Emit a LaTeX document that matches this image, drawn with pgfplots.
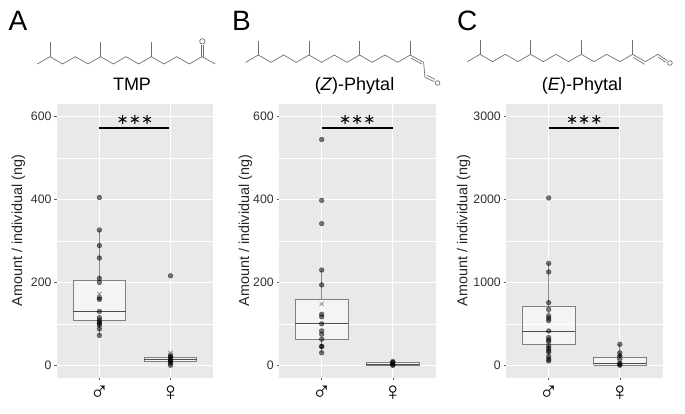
\documentclass[border=0pt]{standalone}
\usepackage{fontspec}
\setmainfont{Liberation Sans}
\newfontfamily\dv{DejaVu Sans}
\usepackage{pgfplots}
\pgfplotsset{compat=1.18}
\definecolor{panelbg}{HTML}{E9E9E9}
\definecolor{ticktxt}{HTML}{303030}
\definecolor{boxedge}{HTML}{808080}
\definecolor{mol}{HTML}{707070}
\pgfplotsset{
  panel/.style={
    anchor=south west, scale only axis, width=156.5pt, height=273.7pt,
    xmin=0.4, xmax=2.6, xtick={1,2},
    xticklabels={{\fontsize{26}{26}\selectfont ♂},{\fontsize{26}{26}\selectfont ♀}},
    axis background/.style={fill=panelbg},
    axis line style={draw=none},
    xmajorgrids, ymajorgrids, yminorgrids, minor y tick num=1,
    major grid style={white,line width=0.9pt},
    minor grid style={white,line width=0.5pt},
    tick align=outside, major tick length=2.2pt,
    xtick pos=bottom, ytick pos=left,
    minor y tick style={draw=none},
    tick style={ticktxt!80!white,line width=0.5pt},
    y tick label style={font=\fontsize{12.3}{13}\selectfont,text=ticktxt,xshift=0.5pt},
    x tick label style={yshift=-2pt},
    /pgf/number format/assume math mode=true,
    /pgf/number format/1000 sep={},
    scaled y ticks=false,
    ylabel={Amount / individual (ng)},
    y label style={font=\fontsize{14.4}{15}\selectfont,text=black!85,anchor=center},
  },
  pts/.style={only marks,mark=*,mark size=2.4pt,black,opacity=0.52,mark options={draw=none,fill=black}},
  meanx/.style={only marks,mark=x,mark size=3pt,gray,mark options={line width=0.6pt}},
  sig/.style={black,line width=2pt,no markers},
  whisk/.style={black!45,line width=1.1pt,no markers},
  boxs/.style={draw=boxedge,fill=white,fill opacity=0.5,line width=0.9pt,no markers},
  med/.style={black!70,line width=0.9pt,no markers},
}
\newcommand{\stars}[1]{\node[font=\dv\fontsize{14.5}{15}\selectfont,inner sep=0pt] at (axis cs:1.5,#1) {∗∗∗};}
\begin{document}
\begin{tikzpicture}
\path[use as bounding box] (0pt,0pt) rectangle (685pt,413pt);

% Panel A
\begin{axis}[panel, at={(56.7pt,35.3pt)}, ymin=-30, ymax=630.7, ytick={0,200,400,600},
  y label style={at={(axis description cs:-0.245,0.538)}}]
\addplot[pts] coordinates {(1,405)(1,326.5)(1,289)(1,259)(1,210)(1,200)(1,163)(1,159)(1,130)(1,115)(1,109)(1,104)(1,101)(1,97)(1,88)(1,72)};
\addplot[pts] coordinates {(2,216)(2,25)(2,22)(2,19)(2,14)(2,11)(2,9)(2,5)(2,0)};
\addplot[meanx] coordinates {(1,172)(2,30)};
\addplot[whisk] coordinates {(1,72)(1,109)};
\addplot[whisk] coordinates {(1,204)(1,326)};
\addplot[boxs] coordinates {(0.63,109)(1.37,109)(1.37,204)(0.63,204)(0.63,109)};
\addplot[med] coordinates {(0.63,130)(1.37,130)};
\addplot[whisk] coordinates {(2,0)(2,9)};
\addplot[whisk] coordinates {(2,19)(2,25)};
\addplot[boxs] coordinates {(1.63,9)(2.37,9)(2.37,19)(1.63,19)(1.63,9)};
\addplot[med] coordinates {(1.63,14)(2.37,14)};
\addplot[sig] coordinates {(1,573)(1.98,573)};
\stars{592}
\end{axis}

% Panel B
\begin{axis}[panel, at={(279pt,35.3pt)}, ymin=-30, ymax=630.7, ytick={0,200,400,600},
  y label style={at={(axis description cs:-0.215,0.538)}}]
\addplot[pts] coordinates {(1,545)(1,398)(1,342)(1,230)(1,194)(1,123)(1,117)(1,100)(1,83)(1,75)(1,63)(1,46)(1,45)(1,30)};
\addplot[pts] coordinates {(2,9)(2,7)(2,5)(2,1)(2,0)};
\addplot[meanx] coordinates {(1,148)};
\addplot[whisk] coordinates {(1,30)(1,63)};
\addplot[whisk] coordinates {(1,159)(1,230)};
\addplot[boxs] coordinates {(0.63,63)(1.37,63)(1.37,159)(0.63,159)(0.63,63)};
\addplot[med] coordinates {(0.63,101)(1.37,101)};
\addplot[boxs] coordinates {(1.63,0)(2.37,0)(2.37,7)(1.63,7)(1.63,0)};
\addplot[med] coordinates {(1.63,1)(2.37,1)};
\addplot[sig] coordinates {(1,573)(2,573)};
\stars{592}
\end{axis}

% Panel C
\begin{axis}[panel, at={(506pt,35.3pt)}, ymin=-150, ymax=3153, ytick={0,1000,2000,3000},
  y label style={at={(axis description cs:-0.27,0.538)}}]
\addplot[pts] coordinates {(1,2019)(1,1230)(1,1126)(1,756)(1,675)(1,595)(1,567)(1,539)(1,414)(1,334)(1,306)(1,285)(1,233)(1,205)(1,177)(1,157)(1,105)(1,72)(1,52)};
\addplot[pts] coordinates {(2,253)(2,149)(2,113)(2,97)(2,72)(2,24)(2,12)(2,0)};
\addplot[meanx] coordinates {(1,635)(2,72)};
\addplot[whisk] coordinates {(1,52)(1,253)};
\addplot[whisk] coordinates {(1,712)(1,1230)};
\addplot[boxs] coordinates {(0.63,253)(1.37,253)(1.37,712)(0.63,712)(0.63,253)};
\addplot[med] coordinates {(0.63,414)(1.37,414)};
\addplot[whisk] coordinates {(2,97)(2,253)};
\addplot[boxs] coordinates {(1.63,0)(2.37,0)(2.37,97)(1.63,97)(1.63,0)};
\addplot[med] coordinates {(1.63,16)(2.37,16)};
\addplot[sig] coordinates {(1,2865)(1.99,2865)};
\stars{2960}
\end{axis}

% Panel letters
\node[anchor=base west,inner sep=0pt,font=\fontsize{28}{28}\selectfont] at (8.5pt,382.3pt) {A};
\node[anchor=base west,inner sep=0pt,font=\fontsize{28}{28}\selectfont] at (232pt,382.3pt) {B};
\node[anchor=base west,inner sep=0pt,font=\fontsize{28}{28}\selectfont] at (457pt,382.3pt) {C};

% Compound names
\node[anchor=base,inner sep=0pt,font=\fontsize{18}{18}\selectfont] at (132pt,322pt) {TMP};
\node[anchor=base,inner sep=0pt,font=\fontsize{18}{18}\selectfont] at (354.5pt,322pt) {(\textit{Z})-Phytal};
\node[anchor=base,inner sep=0pt,font=\fontsize{18}{18}\selectfont] at (582pt,322pt) {(\textit{E})-Phytal};

% Skeletal formulas (coordinates are zoomed px / 3)
\begin{scope}[draw=mol,line width=0.7pt,line join=round,x=0.3333pt,y=-0.3333pt,shift={(0pt,413pt)}]
% A
\draw (112,192)--(150,170)--(188,192)--(226,170)--(264,192)--(302,170)--(340,192)--(378,170)--(416,192)--(454,170)--(492,192)--(530,170)--(568,192)--(606,170)--(646,192);
\draw (150,170)--(150,126) (302,170)--(302,126) (454,170)--(454,126);
\draw (603,170)--(603,134) (610,170)--(610,134);
\draw (607,124) circle [radius=8];
% B
\begin{scope}[shift={(675,0)}]
\draw (62,187)--(100,165)--(138,187)--(176,165)--(214,187)--(252,165)--(290,187)--(328,165)--(366,187)--(404,165)--(442,187)--(480,165)--(518,187)--(556,165)--(596,187)--(600,232)--(628,245);
\draw (100,165)--(100,122) (252,165)--(252,122) (404,165)--(404,122) (556,165)--(556,122);
\draw (558,174)--(590,192);
\draw (606,226)--(630,238);
\draw (638,249) circle [radius=7];
\end{scope}
% C
\begin{scope}[shift={(1350,0)}]
\draw (52,185)--(90,163)--(128,185)--(166,163)--(204,185)--(242,163)--(280,185)--(318,163)--(356,185)--(394,163)--(432,185)--(470,163)--(510,185)--(548,163)--(586,185)--(624,163)--(652,182);
\draw (90,163)--(90,120) (242,163)--(242,120) (394,163)--(394,120) (548,163)--(548,120);
\draw (550,172)--(584,193);
\draw (624,171)--(648,187);
\draw (660,189) circle [radius=7];
\end{scope}
\end{scope}
\end{tikzpicture}
\end{document}
